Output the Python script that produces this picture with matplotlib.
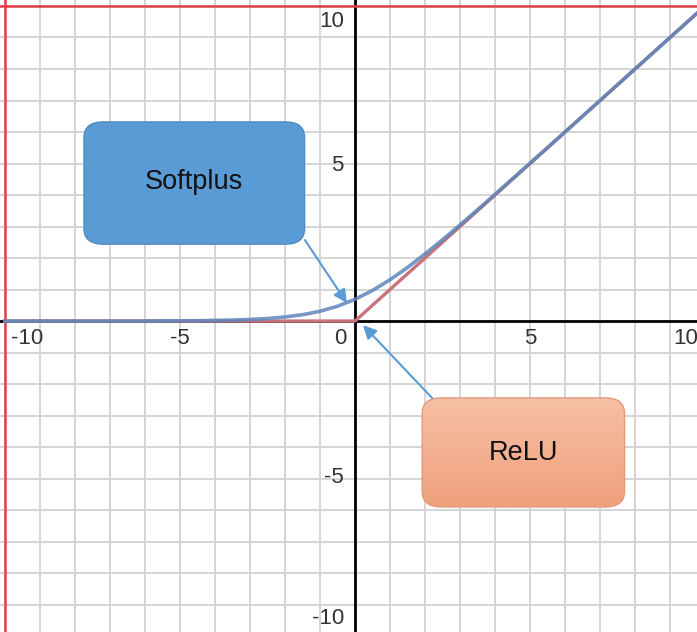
import numpy as np
import matplotlib
matplotlib.use("Agg")
from matplotlib import pyplot as plt
from matplotlib.patches import FancyBboxPatch

softplus_x = [-10, -8, -6, -5, -4.5, -4, -3.5, -3, -2.5, -2, -1.5, -1, -0.5,
              0, 0.5, 1, 1.5, 2, 2.5, 3, 3.5, 4, 5, 6, 8, 10]
softplus_y = [0.0, 0.0, 0.0, 0.01, 0.01, 0.02, 0.03, 0.05, 0.08, 0.13, 0.2, 0.31, 0.47,
              0.69, 0.97, 1.31, 1.7, 2.13, 2.58, 3.05, 3.53, 4.02, 5.01, 6.0, 8.0, 10.0]

# ReLU
relu_x = [-10, 0, 10]
relu_y = [0, 0, 10]

x_ticks = [-10, -5, 0, 5, 10]
x_tick_labels = ["-10", "-5", "0", "5", "10"]
y_ticks = [10, 5, -5, -10]
y_tick_labels = ["10", "5", "-5", "-10"]

plt.rcParams['font.family'] = ['Liberation Sans', 'DejaVu Sans']

fig = plt.figure(figsize=(6.97, 6.32), dpi=100)
ax = fig.add_axes([0, 0, 1, 1])
ax.set_xlim(-10.14, 9.77)
ax.set_ylim(-9.87, 10.19)
ax.axis('off')

# grille
for g in range(-10, 11):
    ax.axvline(g, color='#d2d2d2', lw=1.3, zorder=0)
    ax.axhline(g, color='#d2d2d2', lw=1.3, zorder=0)

# axes principaux
ax.axhline(0, color='black', lw=2, zorder=1)
ax.axvline(0, color='black', lw=2, zorder=1)

# bordure rouge gauche / haut
ax.axvline(-10, color='#e0404a', lw=1.8, zorder=1)
ax.axhline(10, color='#e0404a', lw=1.8, zorder=1)

# courbes
ax.plot(relu_x, relu_y, color='#c9737c', lw=2.4, zorder=2)
ax.plot(softplus_x, softplus_y, color='#5d86bd', lw=2.6, alpha=0.85, zorder=3)

# labels des graduations (décalés comme sur l'original)
x_label_pos = {"-10": (-9.37, 'center'), "-5": (-5.0, 'center'), "0": (-0.43, 'center'),
               "5": (5.0, 'center'), "10": (9.1, 'left')}
for t, lab in zip(x_ticks, x_tick_labels):
    xp, ha = x_label_pos[lab]
    ax.text(xp, -0.55, lab, ha=ha, va='center', fontsize=16, color='#333333', zorder=4)

y_label_pos = {"10": 9.5, "5": 4.95, "-5": -4.98, "-10": -9.43}
for t, lab in zip(y_ticks, y_tick_labels):
    ax.text(-0.32, y_label_pos[lab], lab, ha='right', va='center', fontsize=16,
            color='#333333', zorder=4)

# boîte Softplus
box1 = FancyBboxPatch((-7.74, 2.44), 6.3, 3.88,
                      boxstyle="round,pad=0,rounding_size=0.55",
                      mutation_aspect=31.5 / 35.0,
                      fc='#5b9bd5', ec='#4f8ac2', lw=1, zorder=5)
ax.add_patch(box1)
ax.text(-4.6, 4.4, "Softplus", ha='center', va='center', fontsize=19.5, color='#111111', zorder=6)

# boîte ReLU avec dégradé
x0, x1, y0, y1 = 1.92, 7.7, -5.9, -2.44
box2 = FancyBboxPatch((x0, y0), x1 - x0, y1 - y0,
                      boxstyle="round,pad=0,rounding_size=0.55",
                      mutation_aspect=31.5 / 35.0,
                      fc='none', ec='#e39a78', lw=1, zorder=6)
ax.add_patch(box2)
grad = np.linspace(0, 1, 100).reshape(-1, 1)
c_top = np.array([0xf6, 0xc0, 0xa6]) / 255
c_bot = np.array([0xf0, 0xa0, 0x7c]) / 255
img = c_top + grad[..., None] * (c_bot - c_top)
im = ax.imshow(img, extent=(x0, x1, y0, y1), origin='upper', aspect='auto', zorder=5)
im.set_clip_path(box2)
ax.text((x0 + x1) / 2, -4.2, "ReLU", ha='center', va='center', fontsize=19.5,
        color='#111111', zorder=7)

# flèches
ax.annotate("", xy=(-0.23, 0.57), xytext=(-1.43, 2.57),
            arrowprops=dict(arrowstyle='-|>', color='#5b9bd5', lw=1.5,
                            mutation_scale=20, shrinkA=0, shrinkB=0), zorder=6)
ax.annotate("", xy=(0.23, -0.13), xytext=(2.2, -2.44),
            arrowprops=dict(arrowstyle='-|>', color='#5b9bd5', lw=1.5,
                            mutation_scale=20, shrinkA=0, shrinkB=0), zorder=6)

ax.set_xlim(-10.14, 9.77)
ax.set_ylim(-9.87, 10.19)

fig.savefig("out.png", dpi=100)
